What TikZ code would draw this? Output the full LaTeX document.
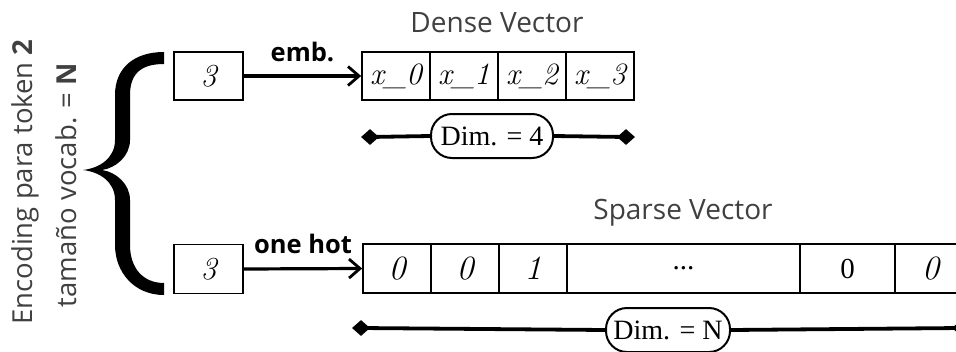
\documentclass[tikz,border=0pt]{standalone}
\usepackage{fontspec}
\newfontfamily\labelsans{Open Sans}
\newfontfamily\dimserif{Liberation Serif}
\usetikzlibrary{arrows.meta,shapes.geometric}
\definecolor{softgray}{RGB}{64,64,64}
\begin{document}
\begin{tikzpicture}[x=1pt,y=-1pt,
  cellbox/.style={draw, line width=1.7pt, minimum height=48pt, inner sep=0pt,
    font=\fontsize{31}{35}\selectfont\itshape},
  tokbox/.style={draw, line width=1.7pt, minimum width=69pt, minimum height=48pt,
    inner sep=0pt, font=\fontsize{32}{35}\selectfont\itshape},
  title/.style={anchor=base, text=softgray, font=\labelsans\fontsize{28}{32}\selectfont},
  sidetext/.style={rotate=90, anchor=base, text=softgray, inner sep=0pt,
    font=\labelsans\fontsize{27.5}{32}\selectfont},
  arrowlbl/.style={midway, anchor=base, yshift=15pt, inner sep=0pt,
    font=\labelsans\bfseries\fontsize{25.5}{30}\selectfont},
  flow/.style={line width=3.2pt, -{Straight Barb[length=11pt,width=19pt,line width=2.8pt]}},
  pill/.style={draw, line width=2pt, rounded corners=21pt, minimum height=44pt,
    inner sep=0pt, font=\dimserif\fontsize{28}{32}\selectfont},
  dimline/.style={line width=3.8pt},
  dimend/.style={diamond, fill, inner sep=0pt, minimum width=18pt, minimum height=16pt}
]
\useasboundingbox (0,0) rectangle (956,351);
\clip (0,0) rectangle (956,351);

% side caption
\node[sidetext] (enc) at (32,182) {Encoding para token \textbf{2}};
\node[sidetext] (voc) at (76,185) {tamaño vocab. = \textbf{N}};

% curly brace
\fill (164,52) .. controls (134,52) and (115,68) .. (115,95)
  -- (115,140) .. controls (115,158) and (100,168) .. (83,170)
  .. controls (100,172) and (115,182) .. (115,200)
  -- (115,245) .. controls (115,272) and (134,295) .. (164,295)
  -- (164,283) .. controls (143,283) and (130,268) .. (130,245)
  -- (130,200) .. controls (130,184) and (116,172) .. (102,170)
  .. controls (116,168) and (130,156) .. (130,140)
  -- (130,95) .. controls (130,72) and (143,64) .. (164,64) -- cycle;

% dense branch
\node[tokbox] (tokA) at (208.5,76) {3};
\node[title] (dtitle) at (497,32) {Dense Vector};
\node[cellbox, minimum width=68pt] (d0) at (396,76) {x\_0};
\node[cellbox, minimum width=68pt] (d1) at (464,76) {x\_1};
\node[cellbox, minimum width=68pt] (d2) at (532,76) {x\_2};
\node[cellbox, minimum width=68pt] (d3) at (600,76) {x\_3};
\draw[flow] (tokA.east) -- node[arrowlbl] {emb.} (d0.west);

\node[dimend] (dl) at (370,137) {};
\node[dimend] (dr) at (626,137) {};
\node[pill, minimum width=122pt] (dimA) at (492,136) {Dim. = 4};
\draw[dimline] (dl.center) -- (dimA.west);
\draw[dimline] (dimA.east) -- (dr.center);

% sparse branch
\node[tokbox, minimum height=49pt] (tokB) at (208.5,269) {3};
\node[title] (stitle) at (683,219) {Sparse Vector};
\node[cellbox, minimum height=49pt, minimum width=68pt, font=\fontsize{34}{38}\selectfont\itshape] (s0) at (397,268.5) {0};
\node[cellbox, minimum height=49pt, minimum width=68pt, font=\fontsize{34}{38}\selectfont\itshape] (s1) at (465,268.5) {0};
\node[cellbox, minimum height=49pt, minimum width=68pt, font=\fontsize{34}{38}\selectfont\itshape] (s2) at (533,268.5) {1};
\node[cellbox, minimum height=49pt, minimum width=233pt, font=\dimserif\fontsize{29}{32}\selectfont] (s3) at (683.5,268.5) {...};
\node[cellbox, minimum height=49pt, minimum width=95pt, font=\dimserif\fontsize{29}{32}\selectfont] (s4) at (847.5,268.5) {0};
\node[cellbox, minimum height=49pt, minimum width=71pt, font=\fontsize{34}{38}\selectfont\itshape] (s5) at (930.5,268.5) {0};
\draw[flow] (tokB.east) -- node[arrowlbl] {one hot} (s0.west);

\node[dimend] (sl) at (361,328) {};
\node[dimend] (sr) at (961,328) {};
\node[pill, minimum width=124pt] (dimB) at (668,330) {Dim. = N};
\draw[dimline] (sl.center) -- (dimB.west);
\draw[dimline] (dimB.east) -- (sr.center);
\end{tikzpicture}
\end{document}
